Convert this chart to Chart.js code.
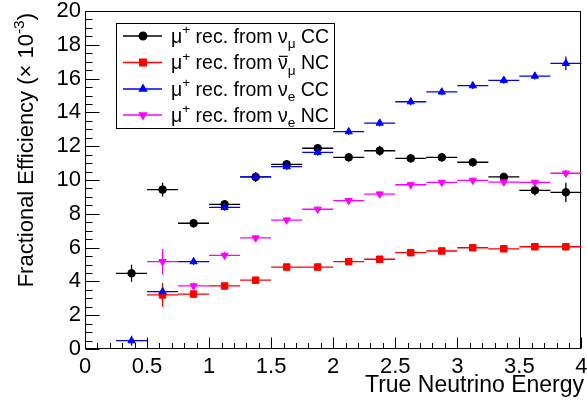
<!DOCTYPE html>
<html>
<head>
<meta charset="utf-8">
<script src="https://cdn.jsdelivr.net/npm/chart.js@4.4.1/dist/chart.umd.min.js"></script>
<style>
html, body { margin: 0; padding: 0; background: #fff; }
</style>
</head>
<body>
<canvas id="chart" width="587" height="405"></canvas>
<script>
// bin centres (GeV), bin width 0.25
const energy = [0.375, 0.625, 0.875, 1.125, 1.375, 1.625, 1.875, 2.125, 2.375, 2.625, 2.875, 3.125, 3.375, 3.625, 3.875];
const binWidth = 0.25;

// efficiencies in units of 1e-3
const numuCC = [4.48, 9.43, 7.44, 8.56, 10.18, 10.93, 11.88, 11.34, 11.73, 11.28, 11.34, 11.05, 10.18, 9.39, 9.27];
const numuCCErr = [0.5, 0.4, 0.25, 0.25, 0.3, 0.26, 0.25, 0.25, 0.3, 0.25, 0.25, 0.25, 0.25, 0.3, 0.57];

const numubarNC = [null, 3.2, 3.25, 3.73, 4.07, 4.85, 4.85, 5.17, 5.31, 5.7, 5.8, 5.99, 5.93, 6.05, 6.05];
const numubarNCErr = [null, 0.7, 0.2, 0.15, 0.15, 0.15, 0.15, 0.15, 0.15, 0.15, 0.15, 0.15, 0.15, 0.15, 0.15];

const nueCC = [0.49, 3.39, 5.17, 8.38, 10.18, 10.79, 11.64, 12.86, 13.37, 14.63, 15.21, 15.58, 15.9, 16.15, 16.9];
const nueCCErr = [0.3, 0.25, 0.2, 0.2, 0.25, 0.2, 0.2, 0.2, 0.2, 0.2, 0.2, 0.2, 0.2, 0.2, 0.41];

const nueNC = [null, 5.17, 3.73, 5.54, 6.57, 7.63, 8.27, 8.78, 9.17, 9.72, 9.86, 9.98, 9.88, 9.86, 10.4];
const nueNCErr = [null, 0.75, 0.2, 0.2, 0.15, 0.15, 0.15, 0.15, 0.15, 0.15, 0.15, 0.15, 0.15, 0.15, 0.2];

const FONT = '"Liberation Sans", Arial, Helvetica, sans-serif';

const series = [
    {vals: numuCC, errs: numuCCErr, color: "#000000", style: "circle", radius: 3.8, rot: 0,
     label: [{t: "μ"}, {t: "+", sup: true}, {t: " rec. from ν"}, {t: "μ", sub: true}, {t: " CC"}]},
    {vals: numubarNC, errs: numubarNCErr, color: "#ff0000", style: "rect", radius: 4.6, rot: 0,
     label: [{t: "μ"}, {t: "+", sup: true}, {t: " rec. from "}, {t: "ν", bar: true}, {t: "μ", sub: true}, {t: " NC"}]},
    {vals: nueCC, errs: nueCCErr, color: "#0000ff", style: "triangle", radius: 4.2, rot: 0,
     label: [{t: "μ"}, {t: "+", sup: true}, {t: " rec. from ν"}, {t: "e", sub: true}, {t: " CC"}]},
    {vals: nueNC, errs: nueNCErr, color: "#ff00ff", style: "triangle", radius: 4.2, rot: 180,
     label: [{t: "μ"}, {t: "+", sup: true}, {t: " rec. from ν"}, {t: "e", sub: true}, {t: " NC"}]}
];

function drawRich(ctx, parts, x, y, size, measureOnly) {
    let cx = x;
    parts.forEach(p => {
        const s = (p.sub || p.sup) ? size * 0.7 : size;
        ctx.font = s + "px " + FONT;
        const dy = p.sub ? size * 0.3 : p.sup ? -size * 0.42 : 0;
        const w = ctx.measureText(p.t).width;
        if (!measureOnly) {
            ctx.fillText(p.t, cx, y + dy);
            if (p.bar) ctx.fillRect(cx + 1, y - size * 0.68, w - 1, 1.2);
        }
        cx += w;
    });
    return cx - x;
}

const rootFrame = {
    id: "rootFrame",
    beforeDatasetsDraw(chart) {
        const ctx = chart.ctx, a = chart.chartArea;
        const xs = chart.scales.x, ys = chart.scales.y;
        ctx.save();
        ctx.strokeStyle = "#000";
        ctx.lineWidth = 1;
        const L = Math.round(a.left) + 0.5, R = Math.round(a.right) - 0.5;
        const T = Math.round(a.top) + 0.5, B = Math.round(a.bottom) - 0.5;
        ctx.strokeRect(L, T, R - L, B - T);
        ctx.beginPath();
        for (let i = 0; i <= 40; i++) {
            const x = Math.round(xs.getPixelForValue(i / 10)) + 0.5;
            const len = i % 5 === 0 ? 11 : 5.5;
            ctx.moveTo(x, B);
            ctx.lineTo(x, B - len);
        }
        for (let i = 0; i <= 40; i++) {
            const y = Math.round(ys.getPixelForValue(i / 2)) + 0.5;
            const len = i % 4 === 0 ? 14 : 7;
            ctx.moveTo(L, y);
            ctx.lineTo(L + len, y);
        }
        ctx.stroke();

        // error bars
        series.forEach(s => {
            ctx.strokeStyle = s.color;
            ctx.lineWidth = 1.3;
            ctx.beginPath();
            energy.forEach((e, i) => {
                if (s.vals[i] == null) return;
                const y = ys.getPixelForValue(s.vals[i]);
                const x = xs.getPixelForValue(e);
                ctx.moveTo(xs.getPixelForValue(e - binWidth / 2), y);
                ctx.lineTo(xs.getPixelForValue(e + binWidth / 2), y);
                ctx.moveTo(x, ys.getPixelForValue(s.vals[i] - s.errs[i]));
                ctx.lineTo(x, ys.getPixelForValue(s.vals[i] + s.errs[i]));
            });
            ctx.stroke();
        });
        ctx.restore();
    },
    afterDraw(chart) {
        const ctx = chart.ctx;
        ctx.save();
        ctx.fillStyle = "#000";
        ctx.textBaseline = "alphabetic";

        // legend
        ctx.fillStyle = "#fff";
        ctx.fillRect(116, 23, 218, 105);
        ctx.strokeStyle = "#000";
        ctx.lineWidth = 1;
        ctx.strokeRect(116.5, 23.5, 218, 105);
        const rows = [36, 62.5, 89, 115];
        series.forEach((s, k) => {
            const y = rows[k];
            ctx.strokeStyle = s.color;
            ctx.lineWidth = 1.3;
            ctx.beginPath();
            ctx.moveTo(123, y);
            ctx.lineTo(162, y);
            ctx.stroke();
            ctx.fillStyle = s.color;
            Chart.helpers.drawPoint(ctx, {pointStyle: s.style, radius: s.radius, rotation: s.rot, borderWidth: 1}, 143, y);
            ctx.fill();
            ctx.fillStyle = "#000";
            drawRich(ctx, s.label, 171, y + 6.5, 19.5);
        });

        // x axis title
        ctx.fillStyle = "#000";
        const xt = [{t: "True Neutrino Energy"}];
        const wx = drawRich(ctx, xt, 0, 0, 23, true);
        drawRich(ctx, xt, 584 - wx, 392, 23);

        // y axis title
        const yt = [{t: "Fractional Efficiency (× 10"}, {t: "-3", sup: true}, {t: ")"}];
        ctx.translate(25, 13);
        ctx.rotate(-Math.PI / 2);
        const wy = drawRich(ctx, yt, 0, 0, 22, true);
        drawRich(ctx, yt, -wy, 8, 22);
        ctx.restore();
    }
};

const datasets = series.map((s, k) => ({
    data: energy.map((e, i) => s.vals[i] == null ? null : {x: e, y: s.vals[i]}).filter(p => p),
    pointStyle: s.style,
    pointRadius: s.radius,
    pointRotation: s.rot,
    pointBackgroundColor: s.color,
    pointBorderColor: s.color,
    pointBorderWidth: 1,
    showLine: false,
    order: 4 - k
}));

new Chart(document.getElementById("chart"), {
    type: "scatter",
    data: {datasets},
    options: {
        responsive: false,
        animation: false,
        layout: {padding: {top: 11, right: 3, left: 0, bottom: 0}},
        plugins: {legend: {display: false}, tooltip: {enabled: false}},
        scales: {
            x: {
                type: "linear", min: 0, max: 4,
                grid: {display: false, drawTicks: false}, border: {display: false},
                ticks: {
                    stepSize: 0.5, padding: 5, color: "#000",
                    font: {family: FONT, size: 22},
                    maxRotation: 0,
                    callback: v => String(v)
                },
                afterFit(s) { s.height = 56; s.paddingLeft = 0; s.paddingRight = 0; }
            },
            y: {
                type: "linear", min: 0, max: 20,
                grid: {display: false, drawTicks: false}, border: {display: false},
                ticks: {
                    stepSize: 2, padding: 4, color: "#000",
                    font: {family: FONT, size: 22}
                },
                afterFit(s) { s.width = 85; s.paddingTop = 0; s.paddingBottom = 0; }
            }
        }
    },
    plugins: [rootFrame]
});
</script>
</body>
</html>
